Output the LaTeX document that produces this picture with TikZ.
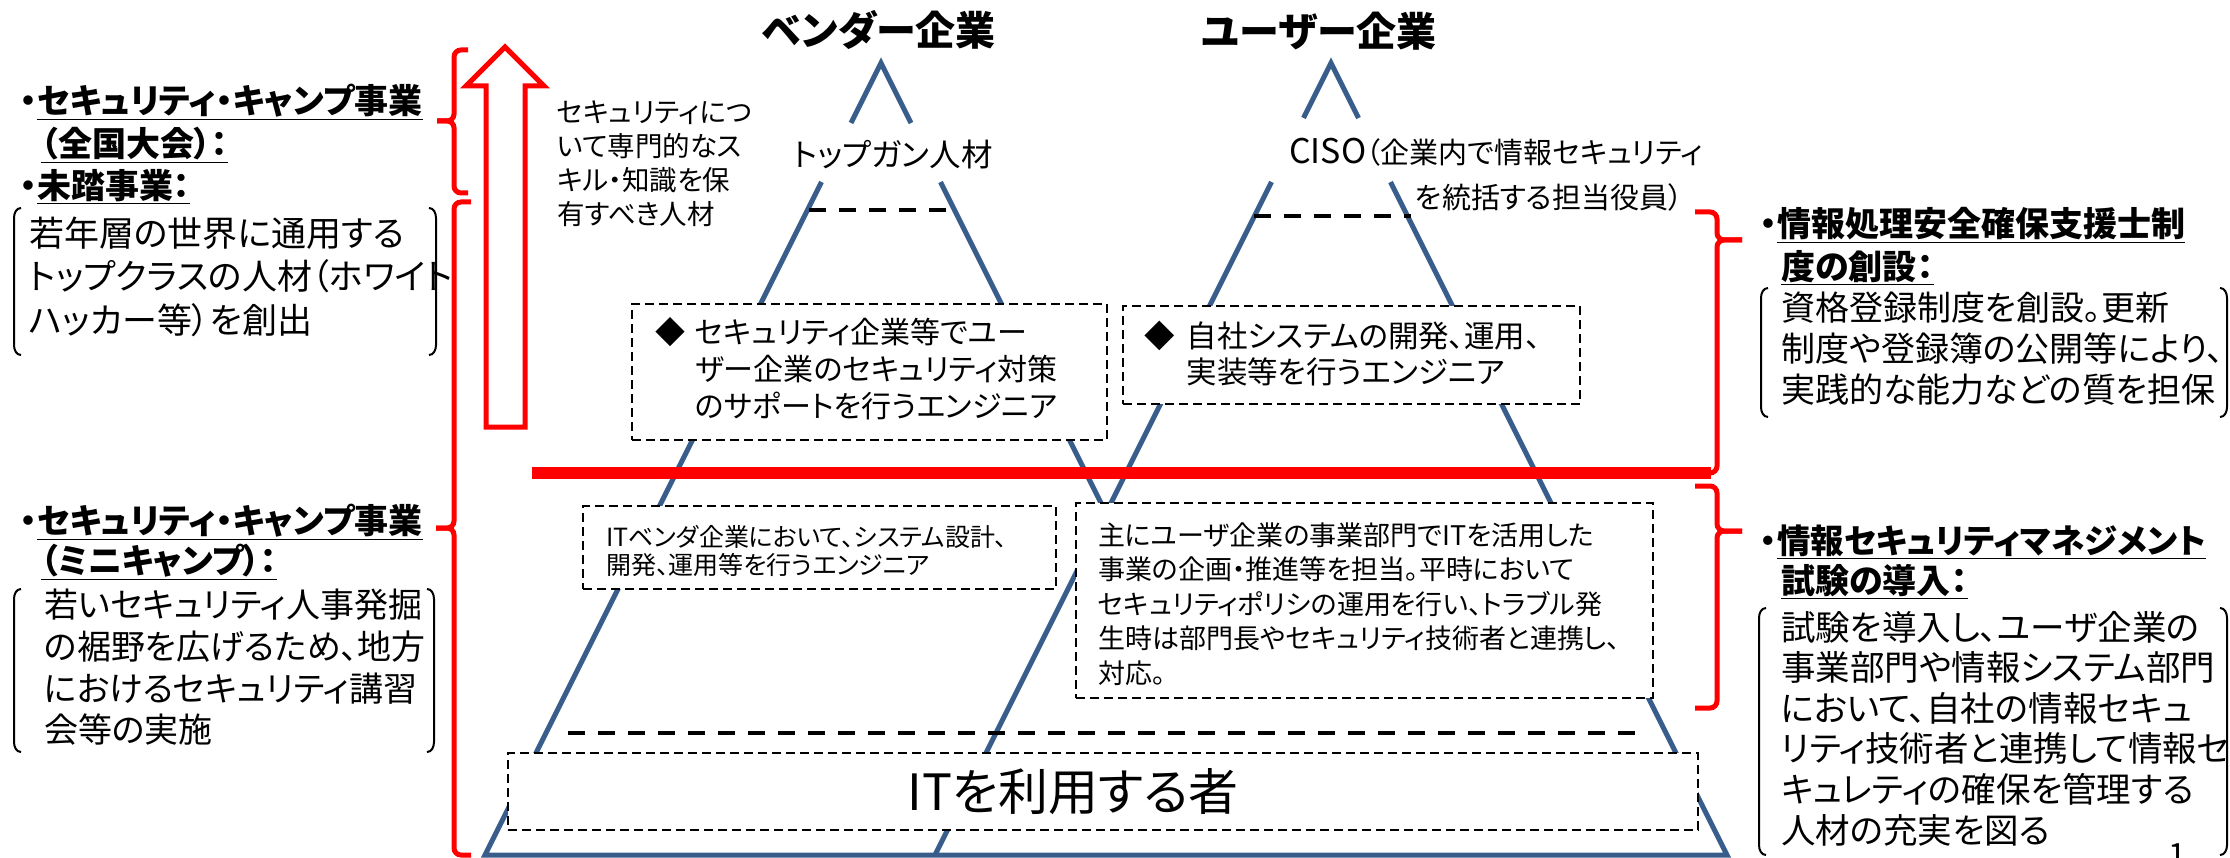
\documentclass[tikz,border=0pt]{standalone}
\usepackage{fontspec}
\setmainfont{Noto Sans CJK JP}[RawFeature=+palt]
\definecolor{pyrblue}{RGB}{56,93,138}
\newcommand\myfs[2]{\fontsize{#1}{#2}\selectfont}
\begin{document}
\begin{tikzpicture}[x=1pt,y=-1pt,
  pyr/.style={draw=pyrblue,line width=5pt},
  dbox/.style={draw=black,dash pattern=on 9pt off 5pt,line width=2.5pt,fill=white,inner sep=0pt},
  tdash/.style={draw=black,dash pattern=on 17pt off 13pt,line width=4.5pt},
  rbrace/.style={draw=red,line width=5pt,rounded corners=7pt},
  paren/.style={draw=black,line width=2pt},
  txt/.style={inner sep=0pt,align=left},
]
\useasboundingbox (0,0) rectangle (2230,858);
% pyramids
\coordinate (VA) at (881,63);
\coordinate (VL1) at (851,123);
\coordinate (VL2) at (821.5,182);
\coordinate (VLB) at (485,855);
\coordinate (VR1) at (911,123);
\coordinate (VR2) at (940.5,182);
\coordinate (VX) at (1106,513);
\coordinate (UA) at (1331,63);
\coordinate (UL1) at (1303.5,118);
\coordinate (UL2) at (1271.5,182);
\coordinate (ULB) at (935,855);
\coordinate (UR1) at (1358.5,118);
\coordinate (UR2) at (1390.5,182);
\coordinate (URB) at (1727,855);
\draw[pyr] (VL1) -- (VA) -- (VR1);
\draw[pyr] (VL2) -- (VLB) -- (URB) -- (UR2);
\draw[pyr] (VR2) -- (VX);
\draw[pyr] (UL1) -- (UA) -- (UR1);
\draw[pyr] (UL2) -- (ULB);
% dashed level lines
\draw[tdash] (809,210) -- (948,210);
\draw[tdash] (1254,216) -- (1411,216);
\draw[tdash] (568,733) -- (1643,733);
% boxes
\node[dbox,minimum width=475pt,minimum height=136pt] (vbox) at (869.5,372) {};
\node[dbox,minimum width=457pt,minimum height=98pt] (ubox) at (1351.5,355) {};
\node[dbox,minimum width=473pt,minimum height=83pt] (itvbox) at (819.5,547.5) {};
\node[dbox,minimum width=577pt,minimum height=195pt] (mainbox) at (1364.5,600.5) {};
\node[dbox,minimum width=1190pt,minimum height=77pt] (itbox) at (1103,791.5) {};
% titles
\node[txt,font=\myfs{40}{48}\bfseries] (vtitle) at (879,30) {ベンダー企業};
\node[txt,font=\myfs{40}{48}\bfseries] (utitle) at (1319,31) {ユーザー企業};
\node[txt,font=\myfs{31.5}{36}] (topgun) at (893,155) {トップガン人材};
\node[txt,anchor=west,font=\myfs{29}{34}] (ciso1) at (1289,152) {{\myfs{34}{36}CISO}（企業内で情報セキュリティ};
\node[txt,anchor=west,font=\myfs{29}{34}] (ciso2) at (1415,197) {を統括する担当役員）};
\node[txt,anchor=west,font=\myfs{27.5}{34}] (arrlbl) at (557,164) {セキュリティにつ\\いて専門的なス\\キル・知識を保\\有すべき人材};
% box texts
\node[txt,anchor=west,font=\myfs{30}{37}] (vboxt) at (655,373.5) {\begin{tabular}{@{}l@{\hspace{10pt}}l@{}}◆&セキュリティ企業等でユー\\&ザー企業のセキュリティ対策\\&のサポートを行うエンジニア\end{tabular}};
\node[txt,anchor=west,font=\myfs{30.5}{35}] (uboxt) at (1144,357.5) {\begin{tabular}{@{}l@{\hspace{12pt}}l@{}}◆&自社システムの開発、運用、\\&実装等を行うエンジニア\end{tabular}};
\node[txt,anchor=west,font=\myfs{25}{28}] (itvboxt) at (606,551) {ITベンダ企業において、システム設計、\\開発、運用等を行うエンジニア};
\node[txt,anchor=west,font=\myfs{27}{34.5}] (mainboxt) at (1098,604) {主にユーザ企業の事業部門でITを活用した\\事業の企画・推進等を担当。平時において\\セキュリティポリシの運用を行い、トラブル発\\生時は部門長やセキュリティ技術者と連携し、\\対応。};
\node[txt,font=\myfs{50}{56}] (itboxt) at (1073,792) {ITを利用する者};
% red elements
\draw[red,line width=12pt] (532,473) -- (1711,473);
\draw[red,line width=5pt] (486,427) -- (486,86) -- (466,86) -- (505,47) -- (544,86) -- (525,86) -- (525,427) -- cycle;
\draw[rbrace] (468,50) -- (454,50) -- (454,121) -- (437,121);
\draw[rbrace] (437,121) -- (454,121) -- (454,193) -- (468,193);
\draw[rbrace] (471,202) -- (454,202) -- (454,528) -- (436,528);
\draw[rbrace] (436,528) -- (454,528) -- (454,855) -- (471,855);
\draw[rbrace] (1695,212) -- (1717,212) -- (1717,240) -- (1742,240);
\draw[rbrace] (1742,240) -- (1717,240) -- (1717,473) -- (1705,473);
\draw[rbrace] (1695,486) -- (1717,486) -- (1717,531) -- (1742,531);
\draw[rbrace] (1742,531) -- (1717,531) -- (1717,708) -- (1695,708);
% left texts
\node[txt,anchor=west,font=\myfs{34}{40}\bfseries] (lt1) at (20,102) {・\underline{セキュリティ・キャンプ事業}};
\node[txt,anchor=west,font=\myfs{34}{40}\bfseries] (lt2) at (41,145) {\underline{（全国大会）：}};
\node[txt,anchor=west,font=\myfs{34}{40}\bfseries] (lt3) at (20,187) {・\underline{未踏事業：}};
\node[txt,anchor=west,font=\myfs{35}{43.5}] (lb1) at (29,276.5) {若年層の世界に通用する\\トップクラスの人材（ホワイト\\ハッカー等）を創出};
\draw[paren] (21,208) to[out=180,in=90] (14,218) -- (14,345) to[out=-90,in=180] (21,355);
\draw[paren] (429,208) to[out=0,in=90] (436,218) -- (436,345) to[out=-90,in=0] (429,355);
\node[txt,anchor=west,font=\myfs{34}{40}\bfseries] (lm1) at (20,522) {・\underline{セキュリティ・キャンプ事業}};
\node[txt,anchor=west,font=\myfs{34}{40}\bfseries] (lm2) at (41,562) {\underline{（ミニキャンプ）：}};
\node[txt,anchor=west,font=\myfs{34}{41.7}] (lb2) at (44,667.5) {若いセキュリティ人事発掘\\の裾野を広げるため、地方\\におけるセキュリティ講習\\会等の実施};
\draw[paren] (21,589) to[out=180,in=90] (14,599) -- (14,742) to[out=-90,in=180] (21,752);
\draw[paren] (427,589) to[out=0,in=90] (434,599) -- (434,742) to[out=-90,in=0] (427,752);
% right texts
\node[txt,anchor=west,font=\myfs{34}{40}\bfseries] (rt1) at (1760,225) {・\underline{情報処理安全確保支援士制}};
\node[txt,anchor=west,font=\myfs{34}{40}\bfseries] (rt2) at (1781,268) {\underline{度の創設：}};
\node[txt,anchor=west,font=\myfs{34}{41}] (rb1) at (1781,349) {資格登録制度を創設。更新\\制度や登録簿の公開等により、\\実践的な能力などの質を担保};
\draw[paren] (1768,288) to[out=180,in=90] (1761,298) -- (1761,407) to[out=-90,in=180] (1768,417);
\draw[paren] (2220,288) to[out=0,in=90] (2227,298) -- (2227,407) to[out=-90,in=0] (2220,417);
\node[txt,anchor=west,font=\myfs{33.5}{40}\bfseries] (rm1) at (1760,542) {・\underline{情報セキュリティマネジメント}};
\node[txt,anchor=west,font=\myfs{34}{40}\bfseries] (rm2) at (1781,582) {\underline{試験の導入：}};
\node[txt,anchor=west,font=\myfs{34.5}{40.6}] (rb2) at (1781,728.5) {試験を導入し、ユーザ企業の\\事業部門や情報システム部門\\において、自社の情報セキュ\\リティ技術者と連携して情報セ\\キュレティの確保を管理する\\人材の充実を図る};
\draw[paren] (1766,608) to[out=180,in=90] (1759,618) -- (1759,845) to[out=-90,in=180] (1766,855);
\draw[paren] (2220,608) to[out=0,in=90] (2227,618) -- (2227,845) to[out=-90,in=0] (2220,855);
\node[txt,anchor=base,font=\myfs{32}{36}] (pgno) at (2177,866) {1};
\end{tikzpicture}
\end{document}
